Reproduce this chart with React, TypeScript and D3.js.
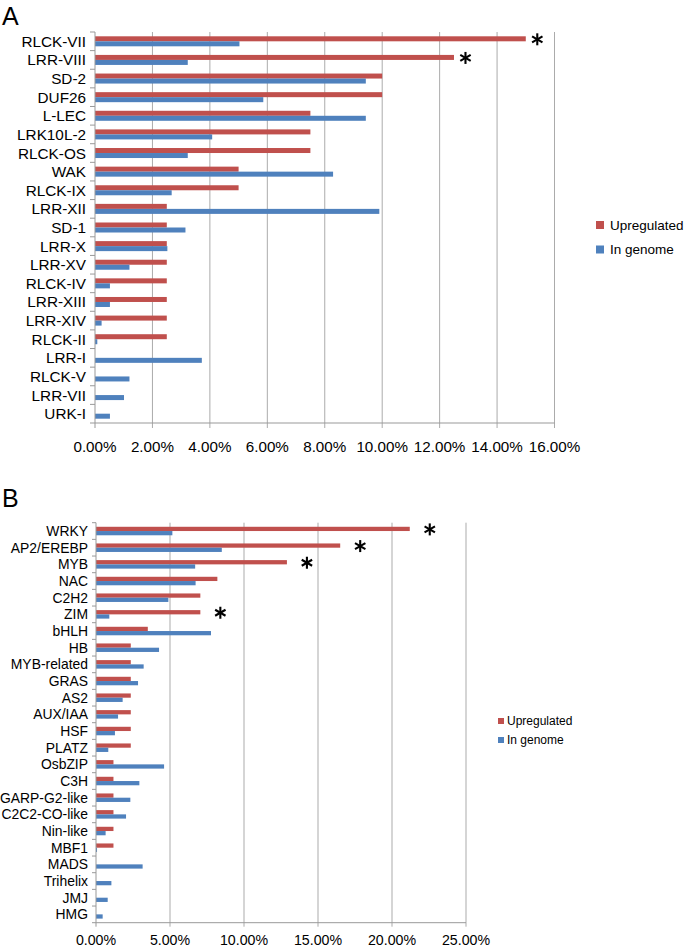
import React from 'react';
import * as d3 from 'd3';

const catsA = ['RLCK-VII','LRR-VIII','SD-2','DUF26','L-LEC','LRK10L-2','RLCK-OS','WAK','RLCK-IX','LRR-XII','SD-1','LRR-X','LRR-XV','RLCK-IV','LRR-XIII','LRR-XIV','RLCK-II','LRR-I','RLCK-V','LRR-VII','URK-I'];
const upA = [15.0, 12.5, 10.0, 10.0, 7.5, 7.5, 7.5, 5.0, 5.0, 2.5, 2.5, 2.5, 2.5, 2.5, 2.5, 2.5, 2.5, 0, 0, 0, 0];
const genomeA = [5.03, 3.23, 9.43, 5.86, 9.43, 4.08, 3.23, 8.29, 2.67, 9.9, 3.15, 2.52, 1.2, 0.52, 0.52, 0.23, 0.08, 3.72, 1.2, 1.01, 0.52];
const ticksA = [0, 2, 4, 6, 8, 10, 12, 14, 16];
const sigA = ['RLCK-VII', 'LRR-VIII'];

const catsB = ['WRKY','AP2/EREBP','MYB','NAC','C2H2','ZIM','bHLH','HB','MYB-related','GRAS','AS2','AUX/IAA','HSF','PLATZ','OsbZIP','C3H','GARP-G2-like','C2C2-CO-like','Nin-like','MBF1','MADS','Trihelix','JMJ','HMG'];
const upB = [21.2, 16.5, 12.9, 8.2, 7.05, 7.05, 3.5, 2.35, 2.35, 2.35, 2.35, 2.35, 2.35, 2.35, 1.18, 1.18, 1.18, 1.18, 1.18, 1.18, 0, 0, 0, 0];
const genomeB = [5.16, 8.5, 6.7, 6.73, 4.89, 0.9, 7.77, 4.26, 3.22, 2.84, 1.8, 1.49, 1.28, 0.83, 4.6, 2.93, 2.32, 2.03, 0.65, 0.07, 3.15, 1.04, 0.79, 0.45];
const ticksB = [0, 5, 10, 15, 20, 25];
const sigB = ['WRKY', 'AP2/EREBP', 'MYB', 'ZIM'];

const seriesNames = ['Upregulated', 'In genome'];
const colors = ['#C0504D', '#4F81BD'];

const FONT = "'Liberation Sans', Arial, Helvetica, sans-serif";

function Asterisk({ x, y, r }) {
  const lines = [90, 30, -30].map((a) => {
    const rad = (a * Math.PI) / 180;
    const dx = Math.cos(rad) * r;
    const dy = Math.sin(rad) * r;
    return <line key={a} x1={x - dx} y1={y - dy} x2={x + dx} y2={y + dy} stroke="#000" strokeWidth={2.1} />;
  });
  return <g>{lines}</g>;
}

function Panel({ cats, up, genome, ticks, sig, x0, x1, y0, y1, xMax, catFont, tickFont, tickY, labelX, tickLen, sigOffset, legend, letter, letterY, subPad }) {
  const x = d3.scaleLinear().domain([0, xMax]).range([x0, x1]);
  const y = d3.scaleBand().domain(cats).range([y0, y1]).padding(0);
  const sub = d3.scaleBand().domain(seriesNames).range([0, y.bandwidth()]).paddingInner(0).paddingOuter(subPad);
  const vals = [up, genome];
  return (
    <g>
      <text x={2} y={letterY} fontSize={25} fontFamily={FONT} fill="#000">{letter}</text>
      {ticks.filter((t) => t > 0).map((t) => (
        <line key={'g' + t} x1={x(t)} x2={x(t)} y1={y0} y2={y1 + tickLen} stroke="#ababab" strokeWidth={1} />
      ))}
      {cats.map((c, i) => (
        <g key={c}>
          {seriesNames.map((s, k) => (
            <rect key={s} x={x(0)} y={(y(c) as number) + (sub(s) as number)} width={Math.max(0, x(vals[k][i]) - x(0))} height={sub.bandwidth()} fill={colors[k]} />
          ))}
          <text x={labelX} y={(y(c) as number) + y.bandwidth() / 2} dy="0.36em" textAnchor="end" fontSize={catFont} fontFamily={FONT} fill="#000">{c}</text>
        </g>
      ))}
      {d3.range(cats.length + 1).map((i) => (
        <line key={'yt' + i} x1={x(0) - tickLen} x2={x(0)} y1={y0 + i * y.step()} y2={y0 + i * y.step()} stroke="#999" strokeWidth={1} />
      ))}
      <line x1={x(0)} x2={x(0)} y1={y0} y2={y1 + tickLen} stroke="#999" strokeWidth={1} />
      <line x1={x(0)} x2={x(xMax)} y1={y1} y2={y1} stroke="#999" strokeWidth={1} />
      {ticks.map((t) => (
        <text key={'tl' + t} x={x(t)} y={tickY} dy="0.36em" textAnchor="middle" fontSize={tickFont} fontFamily={FONT} fill="#000">{t.toFixed(2) + '%'}</text>
      ))}
      {sig.map((c) => {
        const i = cats.indexOf(c);
        return <Asterisk key={'s' + c} x={x(up[i]) + sigOffset} y={(y(c) as number) + (sub('Upregulated') as number) + sub.bandwidth() / 2 + 0.5} r={6} />;
      })}
      {seriesNames.map((s, k) => (
        <g key={'lg' + s}>
          <rect x={legend.x} y={legend.y + k * legend.dy - legend.size / 2} width={legend.size} height={legend.size} fill={colors[k]} />
          <text x={legend.tx} y={legend.y + k * legend.dy} dy="0.36em" fontSize={legend.font} fontFamily={FONT} fill="#000">{s}</text>
        </g>
      ))}
    </g>
  );
}

export default function App() {
  return (
    <svg width={685} height={948} style={{ position: 'absolute', left: 0, top: 0, background: '#fff' }}>
      <rect x={0} y={0} width={685} height={948} fill="#fff" />
      <Panel
        cats={catsA} up={upA} genome={genomeA} ticks={ticksA} sig={sigA}
        x0={95} x1={554.5} y0={32} y1={423} xMax={16}
        catFont={15.3} tickFont={15.2} tickY={447} labelX={86} tickLen={5}
        sigOffset={11.5} letter="A" letterY={25} subPad={0.86}
        legend={{ x: 596, y: 225, dy: 24.5, size: 8, tx: 610, font: 13.5 }}
      />
      <Panel
        cats={catsB} up={upB} genome={genomeB} ticks={ticksB} sig={sigB}
        x0={96} x1={466} y0={522.7} y1={922.7} xMax={25}
        catFont={13.9} tickFont={14.2} tickY={940} labelX={88} tickLen={4}
        sigOffset={20} letter="B" letterY={507} subPad={0.96}
        legend={{ x: 498, y: 721, dy: 19, size: 6, tx: 507, font: 12 }}
      />
    </svg>
  );
}
